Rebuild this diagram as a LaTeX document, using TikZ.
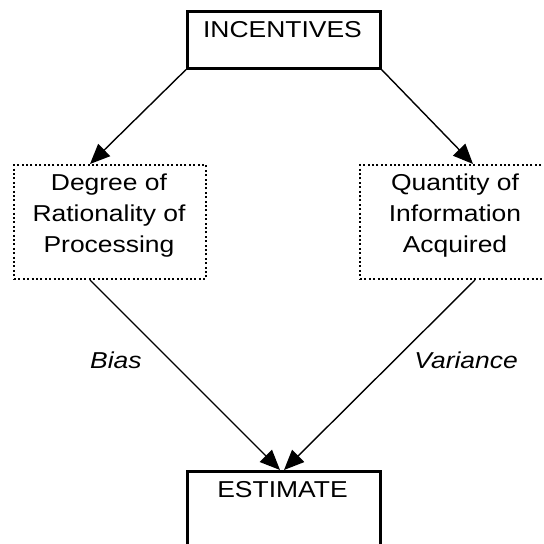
\documentclass[tikz,border=0pt]{standalone}
\usepackage{fontspec}
\setmainfont{Liberation Sans}[FakeStretch=1.15]
\usetikzlibrary{arrows.meta}
\begin{document}
\begin{tikzpicture}[x=1pt,y=-1pt,
  every node/.style={font=\fontsize{23}{31}\selectfont},
  solidbox/.style={draw, line width=2.6pt, rectangle, inner sep=0pt, anchor=north west},
  dotbox/.style={draw, line width=2pt, dash pattern=on 2pt off 2.4pt, rectangle, inner sep=0pt, anchor=north west},
  txt/.style={align=center, inner sep=0pt, anchor=base},
  lbl/.style={inner sep=0pt, font=\fontsize{23}{31}\selectfont\itshape},
  arr/.style={line width=1.4pt, -{Triangle[length=20pt,width=17pt]}},
]
\clip (0,0) rectangle (544,544);
\useasboundingbox (0,0) rectangle (544,544);
% boxes
\node[solidbox, minimum width=193pt, minimum height=57pt] (inc) at (186,10) {};
\node[txt] (inctxt) at (282.5,37) {INCENTIVES};
\node[dotbox, minimum width=192pt, minimum height=114pt] (deg) at (13,164) {};
\node[txt] (degtxt) at (109,252) {Degree of\\Rationality of\\Processing};
\node[dotbox, minimum width=192pt, minimum height=114pt] (qty) at (359,164) {};
\node[txt] (qtytxt) at (455,252) {Quantity of\\Information\\Acquired};
\node[solidbox, minimum width=193pt, minimum height=120pt] (est) at (186,470) {};
\node[txt] (esttxt) at (282.5,497) {ESTIMATE};
% connectors
\coordinate (degin) at ([xshift=77pt]deg.north west);
\coordinate (qtyin) at ([xshift=114pt]qty.north west);
\coordinate (degout) at ([xshift=77pt]deg.south west);
\coordinate (qtyout) at ([xshift=116pt]qty.south west);
\coordinate (estinL) at ([xshift=94pt]est.north west);
\coordinate (estinR) at ([xshift=98pt]est.north west);
\draw[arr] (inc.south west) -- (degin);
\draw[arr] (inc.south east) -- (qtyin);
\draw[arr] (degout) -- (estinL);
\draw[arr] (qtyout) -- (estinR);
% labels
\node[lbl, anchor=base west] (bias) at (90,368) {Bias};
\node[lbl, anchor=base east] (var) at (518,368) {Variance};
\end{tikzpicture}
\end{document}
